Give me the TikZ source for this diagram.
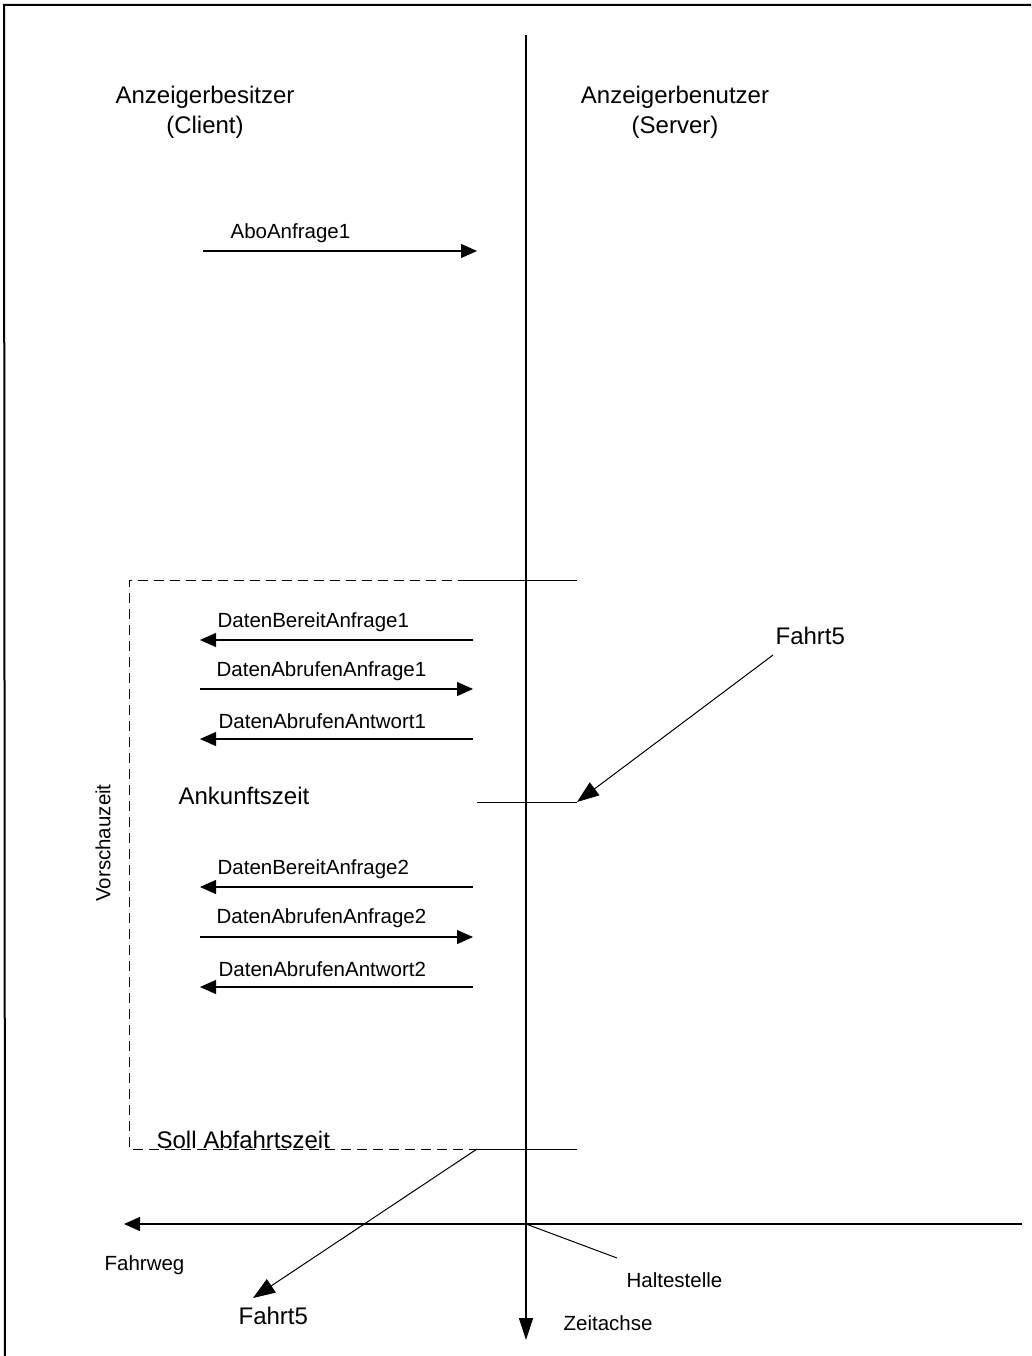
\documentclass[tikz,border=0pt]{standalone}
\usepackage{fontspec}
\setmainfont{Liberation Sans}
\usetikzlibrary{arrows.meta}
\begin{document}
\begin{tikzpicture}[x=1pt,y=-1pt,
  line width=1.2pt,
  bigtxt/.style={font=\fontsize{24}{30}\selectfont, inner sep=0pt},
  smalltxt/.style={font=\fontsize{20.5}{24}\selectfont, inner sep=0pt},
  msg/.style={-{Triangle[length=16pt,width=14pt]}},
  diag/.style={line width=1pt,-{Triangle[length=22pt,width=16pt]}},
  axis/.style={-{Triangle[length=22pt,width=14pt]}},
  frameline/.style={line width=2pt},
  dashline/.style={line width=1pt, dash pattern=on 10pt off 6pt}
]
\useasboundingbox (0,0) rectangle (1031,1356);
% frame
\coordinate (f1) at (4,5);
\coordinate (f2) at (1031,5);
\coordinate (f3) at (5,1356);
\draw[frameline] (f2) -- (f1) -- (f3);

% headers
\node[bigtxt, align=center] (client) at (205,112) {Anzeigerbesitzer\\(Client)};
\node[bigtxt, align=center] (server) at (675,112) {Anzeigerbenutzer\\(Server)};

% axes
\coordinate (vtop) at (526,35);
\coordinate (vbot) at (526,1340);
\coordinate (hright) at (1022,1224);
\coordinate (hleft) at (124,1224);
\coordinate (origin) at (526,1224);
\draw[axis] (vtop) -- (vbot);
\draw[-{Triangle[length=16pt,width=14pt]}] (hright) -- (hleft);

% AboAnfrage1
\coordinate (a1s) at (203,251);
\coordinate (a1e) at (477,251);
\draw[msg] (a1s) -- (a1e);
\node[smalltxt, anchor=west] (abo) at (230,233) {AboAnfrage1};

% dashed Vorschauzeit box
\coordinate (bt1) at (129,580);
\coordinate (bt2) at (468,580);
\coordinate (bt3) at (577,580);
\coordinate (bb1) at (129,1149);
\coordinate (bb2) at (477,1149);
\coordinate (bb3) at (577,1149);
\draw[dashline] (bt2) -- (bt1) -- (bb1) -- (bb2);
\draw[line width=1pt] (bt2) -- (bt3);
\draw[line width=1pt] (bb2) -- (bb3);
\node[smalltxt, rotate=90] (vor) at (103,843) {Vorschauzeit};

% messages set 1
\coordinate (m1r) at (473,640); \coordinate (m1l) at (200,640);
\coordinate (m2r) at (473,689); \coordinate (m2l) at (200,689);
\coordinate (m3r) at (473,739); \coordinate (m3l) at (200,739);
\draw[msg] (m1r) -- (m1l);
\draw[msg] (m2l) -- (m2r);
\draw[msg] (m3r) -- (m3l);
\node[smalltxt, anchor=west] (t1) at (217,622) {DatenBereitAnfrage1};
\node[smalltxt, anchor=west] (t2) at (216,671) {DatenAbrufenAnfrage1};
\node[smalltxt, anchor=west] (t3) at (218,721) {DatenAbrufenAntwort1};

% Ankunftszeit
\coordinate (ank1) at (477,802);
\coordinate (ank2) at (577,802);
\draw[line width=1pt] (ank1) -- (ank2);
\node[bigtxt, anchor=west] (ank) at (178,796) {Ankunftszeit};

% Fahrt5 top
\node[bigtxt, anchor=west] (fahrtA) at (775,636) {Fahrt5};
\coordinate (fa) at (773,655);
\draw[diag] (fa) -- (ank2);

% messages set 2
\coordinate (n1r) at (473,887); \coordinate (n1l) at (200,887);
\coordinate (n2r) at (473,937); \coordinate (n2l) at (200,937);
\coordinate (n3r) at (473,987); \coordinate (n3l) at (200,987);
\draw[msg] (n1r) -- (n1l);
\draw[msg] (n2l) -- (n2r);
\draw[msg] (n3r) -- (n3l);
\node[smalltxt, anchor=west] (u1) at (217,869) {DatenBereitAnfrage2};
\node[smalltxt, anchor=west] (u2) at (216,918) {DatenAbrufenAnfrage2};
\node[smalltxt, anchor=west] (u3) at (218,969) {DatenAbrufenAntwort2};

% Soll Abfahrtszeit
\node[bigtxt, anchor=west] (soll) at (156,1140) {Soll Abfahrtszeit};

% Fahrt5 bottom
\coordinate (fb) at (253,1298);
\draw[diag] (bb2) -- (fb);
\node[bigtxt, anchor=west] (fahrtB) at (238,1316) {Fahrt5};

% Haltestelle
\coordinate (hs) at (617,1258);
\draw[line width=1pt] (origin) -- (hs);
\node[smalltxt, anchor=west] (halt) at (626,1280) {Haltestelle};
\node[smalltxt, anchor=west] (fahrweg) at (104,1265) {Fahrweg};
\node[smalltxt, anchor=west] (zeit) at (563,1323) {Zeitachse};
\end{tikzpicture}
\end{document}
